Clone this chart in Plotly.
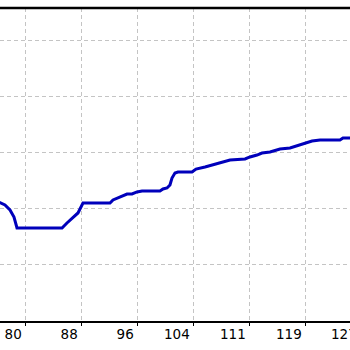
import plotly.graph_objects as go

# Series
x_vals = [76.4, 77.20, 77.90, 78.46, 78.88, 85.18, 85.87, 86.71, 87.41, 88.11,
          91.89, 92.31, 93.29, 94.27, 94.97, 95.67, 96.37, 98.88, 99.30, 99.86,
          100.28, 100.56, 100.98, 101.40, 103.36, 103.92, 105.18, 106.58, 107.28,
          108.68, 110.78, 111.47, 112.45, 113.15, 114.27, 115.67, 117.07, 118.47,
          119.17, 120.15, 121.27, 124.06, 124.48, 125.6]
y_vals = [31.02, 30.54, 29.64, 28.39, 26.43, 26.43, 27.32, 28.21, 29.11, 30.89,
          30.89, 31.43, 31.96, 32.50, 32.50, 32.86, 33.04, 33.04, 33.39, 33.57,
          34.11, 35.36, 36.25, 36.43, 36.43, 36.96, 37.32, 37.86, 38.04,
          38.57, 38.75, 39.11, 39.46, 39.82, 40.00, 40.54, 40.71, 41.25,
          41.61, 41.96, 42.14, 42.14, 42.50, 42.50]

# Axis ticks
x_tickvals = [80, 87.833, 95.667, 103.5, 111.333, 119.167]
x_ticktext = ["80", "88", "96", "104", "111", "119"]
x_cut_tick = 127.0
x_cut_text = "127"
y_tickvals = [20, 30, 40, 50, 60]

x_range = [76.503, 125.46]
y_range = [9.821, 65.714]

fig = go.Figure()
fig.add_trace(go.Scatter(x=x_vals, y=y_vals, mode="lines",
                         line=dict(color="rgb(0,0,187)", width=3),
                         hoverinfo="skip", showlegend=False))

grid = dict(showgrid=True, gridcolor="#c4c4c4", gridwidth=1, griddash="4px,3px")

fig.update_xaxes(range=x_range, tickmode="array", tickvals=x_tickvals,
                 ticktext=x_ticktext, ticks="outside", ticklen=3, tickcolor="black",
                 tickwidth=1, showline=True, linecolor="black", linewidth=1.5,
                 ticklabelposition="outside left", ticklabelshift=-2,
                 tickfont=dict(family="DejaVu Sans", size=13.5, color="black"),
                 zeroline=False, **grid)
fig.update_yaxes(range=y_range, tickmode="array", tickvals=y_tickvals,
                 showticklabels=False, ticks="", showline=False, zeroline=False, **grid)

frac = (x_cut_tick - x_range[0]) / (x_range[1] - x_range[0])
fig.add_annotation(x=frac, xref="paper", y=0, yref="paper", yshift=-3,
                   text=x_cut_text, showarrow=False, xanchor="right", yanchor="top",
                   xshift=-2, font=dict(family="DejaVu Sans", size=13.5, color="black"))
fig.add_shape(type="line", xref="paper", yref="paper", x0=0, x1=1, y0=1, y1=1,
              line=dict(color="black", width=2.5))

fig.update_layout(width=350, height=350, margin=dict(l=0, r=0, t=8, b=29),
                  plot_bgcolor="white", paper_bgcolor="white")
fig.write_html("out.html")
